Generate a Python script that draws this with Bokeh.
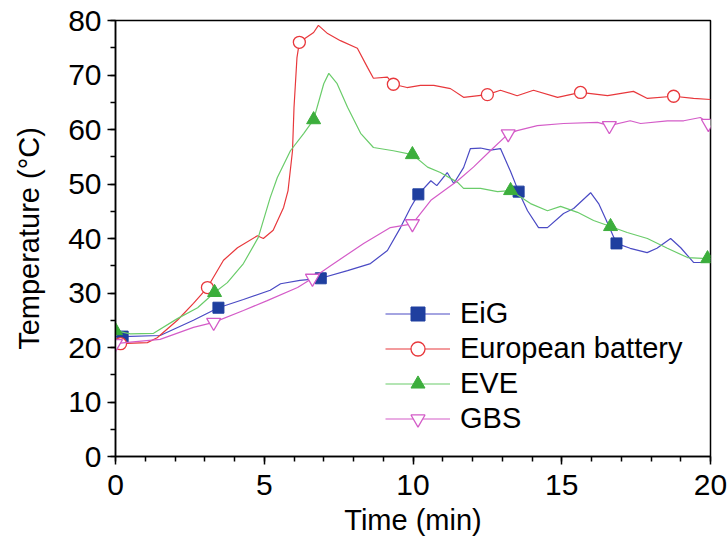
from bokeh.plotting import figure
from bokeh.models import Range1d, Legend, LegendItem
from bokeh.embed import file_html
from bokeh.resources import INLINE

# ---- data ----
eig_t = [0, 0.24, 1.5, 2.62, 3.46, 4.3, 5.2, 5.55, 6.2, 6.9, 7.8, 8.57, 9.14, 9.58, 9.92, 10.18,
         10.6, 10.8, 11.15, 11.37, 11.7, 11.93, 12.27, 12.6, 12.94, 13.28, 13.55, 13.85, 14.22,
         14.52, 15.06, 15.4, 15.97, 16.24, 16.5, 16.84, 17.3, 17.87, 18.2, 18.66, 19.0, 19.43, 19.77, 20]
eig_y = [22, 22, 22.2, 25, 27.3, 28.8, 30.5, 31.7, 32.3, 32.7, 34.1, 35.4, 37.8, 42.0, 45.7, 48.1,
         50.6, 49.7, 52.1, 50.1, 53, 56.5, 56.6, 56.2, 56.5, 52.3, 48.6, 45.1, 42.0,
         42.0, 44.6, 45.5, 48.4, 46.4, 43.3, 39.1, 38.2, 37.4, 38.2, 40.0, 38.3, 35.6, 35.6, 36]
eig_mx = [0.24, 3.46, 6.9, 10.18, 13.55, 16.84]
eig_my = [22, 27.3, 32.7, 48.1, 48.6, 39.1]

eur_t = [0, 0.17, 1.07, 1.4, 2.08, 2.62, 3.09, 3.63, 4.1, 4.77, 4.97, 5.3, 5.65, 5.8, 5.95, 6.0,
         6.1, 6.18, 6.66, 6.82, 7.13, 7.56, 8.13, 8.47, 8.67, 9.14, 9.34, 9.8, 10.25, 10.7, 11.26,
         11.7, 12.5, 12.94, 13.5, 14.05, 14.86, 15.63, 16.54, 17.41, 17.88, 18.76, 19.43, 20]
eur_y = [20, 20.7, 20.9, 21.8, 25, 28.1, 31.0, 36, 38.3, 40.5, 40, 41.5, 45.7, 48.8, 56.1, 64,
         73.2, 76, 77.8, 79.1, 77.6, 76.3, 74.9, 71.4, 69.4, 69.6, 68.3, 67.7, 68.1, 68.1, 67.5,
         65.9, 66.4, 67.2, 66.2, 67.2, 65.9, 66.8, 66.2, 67.0, 65.7, 66.1, 65.7, 65.5]
eur_mx = [0.17, 3.09, 6.18, 9.34, 12.5, 15.63, 18.76]
eur_my = [20.7, 31.0, 76.0, 68.3, 66.4, 66.8, 66.1]

eve_t = [0, 0.5, 1.28, 2.08, 2.76, 3.33, 3.76, 4.3, 4.8, 5.2, 5.44, 5.88, 6.33, 6.66, 7.0, 7.17,
         7.45, 7.8, 8.24, 8.67, 9.34, 9.98, 10.49, 10.92, 11.5, 11.7, 12.27, 12.84, 13.28, 13.95,
         14.52, 14.96, 15.53, 16.07, 16.64, 17.2, 17.88, 18.55, 19.23, 19.9, 20]
eve_y = [23.1, 22.5, 22.6, 25.3, 27.3, 30.1, 31.9, 35.4, 40.2, 47.5, 51.2, 56.1, 59.3, 61.8, 68.4, 70.3,
         68.4, 64.1, 59.3, 56.7, 56.1, 55.4, 53.1, 52.1, 50.3, 49.2, 49.2, 48.6, 48.8, 46.4,
         45.1, 45.9, 44.8, 43.3, 42.2, 41.1, 40.0, 38.2, 36.5, 36.3, 36.3]
eve_mx = [0, 3.33, 6.66, 9.98, 13.28, 16.64, 19.9]
eve_my = [23.1, 30.1, 61.8, 55.4, 48.8, 42.2, 36.3]

gbs_t = [0, 0.5, 1.5, 2.62, 3.3, 4.3, 5.1, 6.12, 6.62, 7.23, 8.34, 9.24, 9.98, 10.6, 11.5, 12.03,
         12.6, 13.2, 13.5, 14.18, 15.06, 16.2, 16.6, 17.3, 17.65, 18.55, 19.1, 19.66, 19.93, 20]
gbs_y = [20.7, 21, 21.5, 23.7, 24.6, 26.8, 28.6, 31, 32.7, 35, 39.1, 42.0, 42.7, 47, 50.6, 53.1,
         56.1, 59.2, 59.8, 60.7, 61.1, 61.3, 60.7, 61.6, 61.1, 61.6, 61.6, 62.2, 61.1, 60.5]
gbs_mx = [0, 3.3, 6.62, 9.98, 13.2, 16.6, 19.93]
gbs_my = [20.7, 24.6, 32.7, 42.7, 59.2, 60.7, 61.1]

labels = ["EiG", "European battery", "EVE", "GBS"]

FONT = "Liberation Sans"

p = figure(width=727, height=543, output_backend="svg", toolbar_location=None,
           x_range=Range1d(0, 20), y_range=Range1d(0, 80),
           min_border_left=115, min_border_right=17, min_border_top=20, min_border_bottom=87)
p.grid.visible = False
p.outline_line_color = "black"
p.outline_line_width = 1.5
p.background_fill_color = "white"

for ax in (p.xaxis, p.yaxis):
    ax.axis_line_width = 1.5
    ax.major_tick_line_width = 1.5
    ax.minor_tick_line_width = 1.5
    ax.major_tick_in = 0
    ax.major_tick_out = 8
    ax.minor_tick_in = 0
    ax.minor_tick_out = 5
    ax.major_label_text_font = FONT
    ax.major_label_text_font_size = "30px"
    ax.major_label_text_color = "black"
    ax.axis_label_text_font = FONT
    ax.axis_label_text_font_size = "29px"
    ax.axis_label_text_font_style = "normal"
    ax.axis_label_text_color = "black"

p.xaxis.ticker.desired_num_ticks = 5
p.xaxis.ticker.num_minor_ticks = 5
p.yaxis.ticker.num_minor_ticks = 2
p.xaxis.axis_label = "Time (min)"
p.yaxis.axis_label = "Temperature (\u00b0C)"
p.xaxis.major_label_standoff = 10
p.yaxis.major_label_standoff = 6
p.xaxis.axis_label_standoff = 6
p.yaxis.axis_label_standoff = 20

c_eig_l, c_eig_m = "#4a4ac4", "#1f3f9f"
c_eur = "#e8383c"
c_eve_l, c_eve_m = "#6acc6a", "#3cae3c"
c_gbs = "#d45cc8"

l1 = p.line(eig_t, eig_y, line_color=c_eig_l, line_width=1.2)
m1 = p.scatter(eig_mx, eig_my, marker="square", size=11, fill_color=c_eig_m, line_color=c_eig_m)
l2 = p.line(eur_t, eur_y, line_color=c_eur, line_width=1.2)
m2 = p.scatter(eur_mx, eur_my, marker="circle", size=12, fill_color="white", line_color=c_eur, line_width=1.3)
l3 = p.line(eve_t, eve_y, line_color=c_eve_l, line_width=1.2)
m3 = p.scatter(eve_mx, eve_my, marker="triangle", size=14, fill_color=c_eve_m, line_color=c_eve_m)
l4 = p.line(gbs_t, gbs_y, line_color=c_gbs, line_width=1.2)
m4 = p.scatter(gbs_mx, gbs_my, marker="inverted_triangle", size=14, fill_color="white", line_color=c_gbs, line_width=1.3)

legend = Legend(items=[
    LegendItem(label=labels[0], renderers=[l1, m1]),
    LegendItem(label=labels[1], renderers=[l2, m2]),
    LegendItem(label=labels[2], renderers=[l3, m3]),
    LegendItem(label=labels[3], renderers=[l4, m4]),
], location=(270, 20))
legend.background_fill_alpha = 0
legend.border_line_alpha = 0
legend.label_text_font = FONT
legend.label_text_font_size = "29px"
legend.label_text_color = "black"
legend.glyph_width = 65
legend.glyph_height = 35
legend.label_height = 35
legend.label_standoff = 10
legend.spacing = 0
legend.padding = 0
legend.margin = 0
p.add_layout(legend, "center")

open("out.html", "w").write(file_html(p, INLINE))
